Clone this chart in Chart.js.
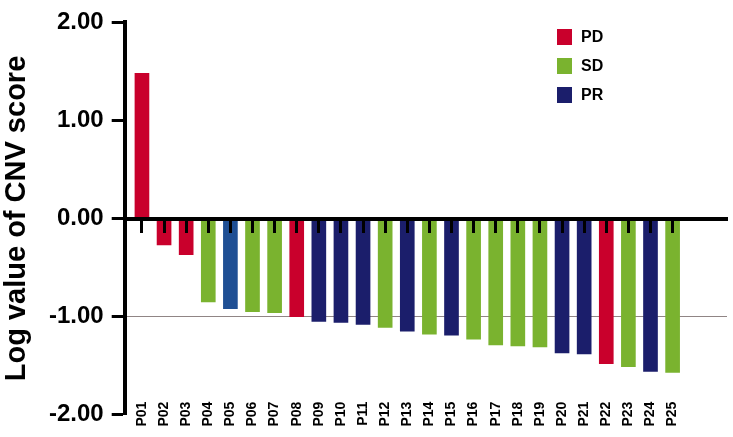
<!DOCTYPE html>
<html>
<head>
<meta charset="utf-8">
<script src="https://cdn.jsdelivr.net/npm/chart.js@4.4.1/dist/chart.umd.min.js"></script>
<style>
  body { margin: 0; background: #fff; }
</style>
</head>
<body>
<canvas id="cnvChart" width="733" height="437"></canvas>
<script>
// patients, log CNV score and response group
var patients = ['P01', 'P02', 'P03', 'P04', 'P05', 'P06', 'P07', 'P08', 'P09', 'P10',
    'P11', 'P12', 'P13', 'P14', 'P15', 'P16', 'P17', 'P18', 'P19', 'P20',
    'P21', 'P22', 'P23', 'P24', 'P25'];
var cnvLog = [1.48, -0.27, -0.37, -0.85, -0.92, -0.95, -0.96, -1.00, -1.05, -1.06,
    -1.08, -1.11, -1.15, -1.18, -1.19, -1.23, -1.29, -1.30, -1.31, -1.37,
    -1.38, -1.48, -1.51, -1.56, -1.57];
var response = ['PD', 'PD', 'PD', 'SD', 'PR', 'SD', 'SD', 'PD', 'PR', 'PR',
    'PR', 'SD', 'PR', 'SD', 'PR', 'SD', 'SD', 'SD', 'SD', 'PR',
    'PR', 'PD', 'SD', 'PR', 'SD'];
var groups = ['PD', 'SD', 'PR'];
var yTickValues = [-2, -1, 0, 1, 2];

var groupColors = { PD: '#c9002c', SD: '#7ab32f', PR: '#1b1e6b' };
// P05 is printed in a lighter blue in the figure
var barShade = { P05: '#1f4f94' };

var font = 'Liberation Sans, Arial, sans-serif';

function group_data(name) {
    var data = [];
    var colors = [];
    for (let i = 0; i < patients.length; i++) {
        if (response[i] !== name) continue;
        data.push({ x: i + 1, y: cnvLog[i] });
        colors.push(barShade[patients[i]] || groupColors[name]);
    }
    return { data: data, colors: colors };
}

var datasets = groups.map(function (g) {
    var d = group_data(g);
    return {
        label: g,
        data: d.data,
        backgroundColor: d.colors,
        legendColor: groupColors[g],
        barThickness: 14,
        grouped: false
    };
});

function patient_ticks(scale) {
    scale.ticks = patients.map((p, i) => ({ value: i + 1 }));
}

// legend drawn inside the plot, top right
var insideLegend = {
    id: 'insideLegend',
    afterDraw: function (chart) {
        var ctx = chart.ctx;
        ctx.save();
        ctx.font = 'bold 16px ' + font;
        ctx.textBaseline = 'middle';
        chart.data.datasets.forEach(function (ds, i) {
            var y = 37 + i * 29;
            ctx.fillStyle = ds.legendColor;
            ctx.fillRect(557, y - 8, 15, 16);
            ctx.fillStyle = '#000';
            ctx.fillText(ds.label, 581, y + 1);
        });
        ctx.restore();
    }
};

new Chart(document.getElementById('cnvChart').getContext('2d'), {
    type: 'bar',
    data: { datasets: datasets },
    plugins: [insideLegend],
    options: {
        responsive: false,
        animation: false,
        devicePixelRatio: 1,
        layout: { padding: { left: 2, right: 6, top: 14, bottom: 7 } },
        plugins: {
            legend: { display: false },
            tooltip: { enabled: false }
        },
        scales: {
            x: {
                type: 'linear',
                position: { y: 0 },
                min: 0.22,
                max: 27.46,
                offset: false,
                afterBuildTicks: patient_ticks,
                grid: {
                    offset: false,
                    drawOnChartArea: false,
                    tickLength: 12,
                    tickWidth: 3,
                    tickColor: '#000',
                    z: 1
                },
                border: { display: true, color: '#000', width: 4, z: 1 },
                ticks: { display: false }
            },
            x2: {
                type: 'linear',
                position: { y: -2 },
                min: 0.22,
                max: 27.46,
                offset: false,
                afterBuildTicks: patient_ticks,
                grid: { display: false, offset: false },
                border: { display: false },
                ticks: {
                    autoSkip: false,
                    minRotation: 90,
                    maxRotation: 90,
                    padding: -21,
                    color: '#000',
                    font: { family: font, size: 14, weight: 'bold' },
                    callback: function (v) { return patients[v - 1]; }
                }
            },
            y: {
                position: 'left',
                min: -2,
                max: 2,
                afterBuildTicks: function (scale) {
                    scale.ticks = yTickValues.map(v => ({ value: v }));
                },
                grid: {
                    color: function (c) {
                        return c.tick && c.tick.value === -1 ? 'rgba(125,112,112,0.85)' : 'rgba(0,0,0,0)';
                    },
                    lineWidth: 1,
                    tickLength: 13,
                    tickWidth: 3,
                    tickColor: '#000'
                },
                border: { display: true, color: '#000', width: 4 },
                ticks: {
                    padding: 8,
                    color: '#000',
                    font: { family: font, size: 24, weight: 'bold' },
                    callback: function (v) { return v.toFixed(2); }
                },
                title: {
                    display: true,
                    text: 'Log value of CNV score',
                    color: '#000',
                    font: { family: font, size: 29, weight: 'bold', lineHeight: 1 },
                    padding: { top: 0, bottom: 10 }
                }
            }
        }
    }
});
</script>
</body>
</html>
